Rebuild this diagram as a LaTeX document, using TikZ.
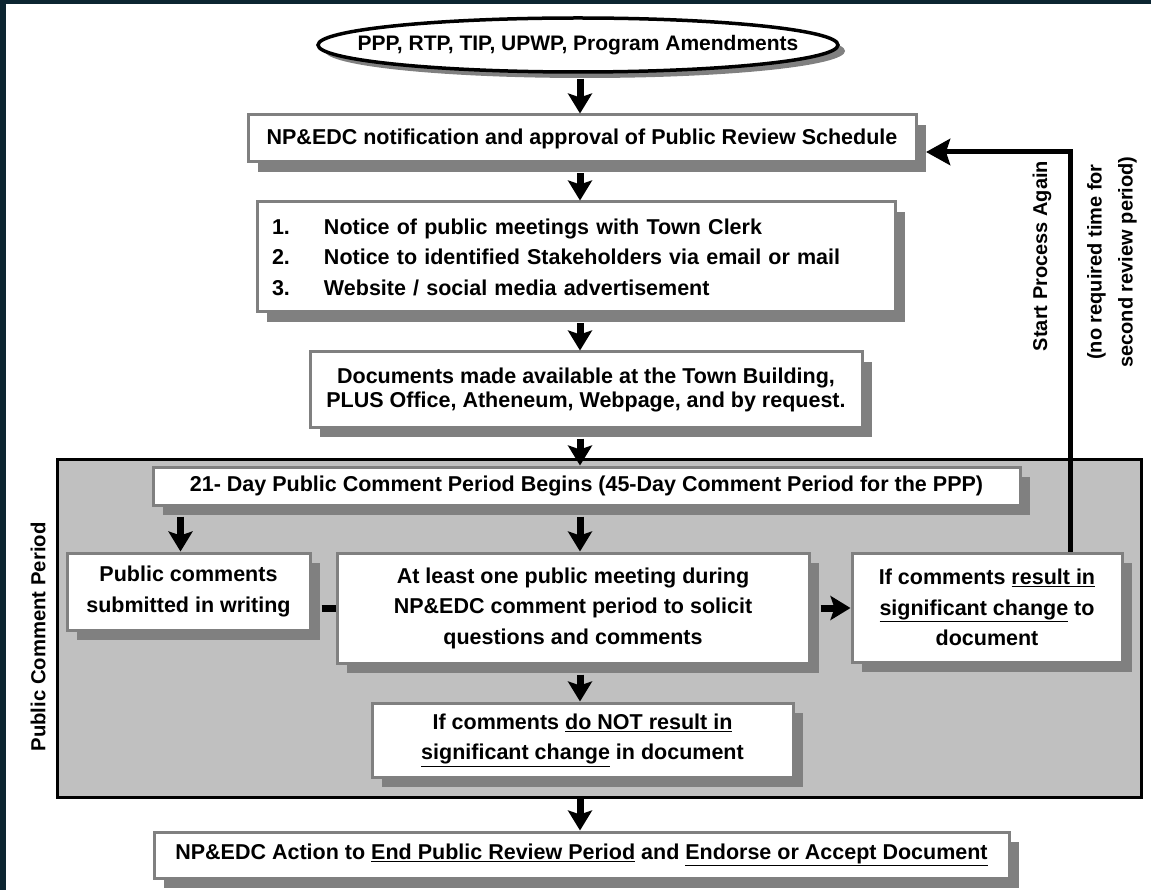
\documentclass[tikz,border=0pt]{standalone}
\usepackage{fontspec}
\setmainfont{Liberation Sans}
\usepackage{tikz}
\usetikzlibrary{positioning,arrows.meta,shapes.geometric,shadows}
\definecolor{framenavy}{HTML}{0C2531}
\definecolor{boxgray}{HTML}{808080}
\definecolor{zonegray}{HTML}{C0C0C0}

\begin{document}
\begin{tikzpicture}[x=1pt, y=-1pt,
    procbox/.style={rectangle, draw=boxgray, line width=3pt, fill=white, inner sep=0pt, align=center,
        font=\bfseries\fontsize{21.5}{30.5}\selectfont,
        drop shadow={shadow xshift=10pt, shadow yshift=-10pt, fill=boxgray, opacity=1}},
    startnode/.style={ellipse, draw=black, line width=3.5pt, fill=white, inner xsep=-40pt, inner ysep=0pt,
        font=\bfseries\fontsize{21}{24}\selectfont,
        drop shadow={shadow xshift=7pt, shadow yshift=-6pt, fill=boxgray, opacity=1}},
    zonebox/.style={rectangle, draw=black, line width=3pt, fill=zonegray, inner sep=0pt},
    flowarrow/.style={-{Stealth[length=20pt, width=24pt, inset=4pt]}, line width=7pt, shorten <=10pt},
    backarrow/.style={-{Stealth[length=24pt, width=26pt, inset=4pt]}, line width=5pt},
    sidelabel/.style={rotate=90, align=center, font=\bfseries\fontsize{20}{31}\selectfont}
    ]
        %Frame
        \useasboundingbox (0,0) rectangle (1151,890);
        \fill[white] (0,0) rectangle (1151,890);
        \fill[framenavy] (0,0) rectangle (1151,4);
        \fill[framenavy] (0,0) rectangle (6,890);
        \coordinate (axis) at (580,0);

        %Comment period zone
        \node[zonebox, minimum width=1084pt, minimum height=338pt]
            (zone)      at (599,628)    {};
        \node[sidelabel, font=\bfseries\fontsize{20.3}{24}\selectfont]
            (zonelabel) at (38,637)     {Public Comment Period};

        %Nodes
        \node[startnode, minimum width=520pt, minimum height=54pt]
            (source)    at (578,45)     {PPP, RTP, TIP, UPWP, Program Amendments};
        \node[procbox, minimum width=668pt, minimum height=47pt]
            (notify)    at (582,138.5)  {NP\&EDC notification and approval of Public Review Schedule};
        \node[procbox, minimum width=638pt, minimum height=110pt, text width=608pt, align=left]
            (notice)    at (576,257)    {\makebox[52pt][l]{1.}Notice of public meetings with Town Clerk\\
                                         \makebox[52pt][l]{2.}Notice to identified Stakeholders via email or mail\\
                                         \makebox[52pt][l]{3.}Website / social media advertisement};
        \node[procbox, minimum width=552pt, minimum height=75pt, font=\bfseries\fontsize{21.5}{24}\selectfont]
            (docs)      at (586,389.5)  {Documents made available at the Town Building,\\
                                         PLUS Office, Atheneum, Webpage, and by request.};
        \node[procbox, minimum width=867pt, minimum height=38pt]
            (begins)    at (586.5,486)  {21- Day Public Comment Period Begins (45-Day Comment Period for the PPP)};
        \node[procbox, minimum width=243pt, minimum height=77pt]
            (written)   at (188.5,591.5) {Public comments\\submitted in writing};
        \node[procbox, minimum width=472pt, minimum height=110pt]
            (meeting)   at (573,608)    {At least one public meeting during\\
                                         NP\&EDC comment period to solicit\\
                                         questions and comments};
        \node[procbox, minimum width=270pt, minimum height=109pt]
            (change)    at (987,607.5)  {If comments \underline{result in}\\
                                         \underline{significant change} to\\
                                         document};
        \node[procbox, minimum width=421pt, minimum height=74pt]
            (nochange)  at (582.5,740)  {If comments \underline{do NOT result in}\\
                                         \underline{significant change} in document};
        \node[procbox, minimum width=855pt, minimum height=46pt]
            (action)    at (581.5,855)  {NP\&EDC Action to \underline{End Public Review Period} and \underline{Endorse or Accept Document}};

        %Side notes
        \node[sidelabel]
            (again)     at (1042,256)   {Start Process Again};
        \node[sidelabel]
            (note)      at (1112,262)   {(no required time for\\second review period)};

        %Lines
        \draw[flowarrow, shorten <=5pt]
            (axis |- source.south) -- (axis |- notify.north);
        \draw[flowarrow]
            (axis |- notify.south) -- (axis |- notice.north);
        \draw[flowarrow]
            (axis |- notice.south) -- (axis |- docs.north);
        \draw[flowarrow]
            (axis |- docs.south) -- (axis |- begins.north);
        \draw[flowarrow]
            ([xshift=-8pt]written.north |- begins.south) -- ([xshift=-8pt]written.north);
        \draw[flowarrow]
            (axis |- begins.south) -- (axis |- meeting.north);
        \draw[line width=7pt, shorten <=10pt]
            (written.east |- meeting.west) -- (meeting.west);
        \draw[flowarrow]
            (meeting.east) -- (meeting.east -| change.west);
        \draw[flowarrow]
            (axis |- meeting.south) -- (axis |- nochange.north);
        \draw[flowarrow, shorten <=0pt]
            (axis |- zone.south) -- (axis |- action.north);

        %Loop back
        \coordinate (looptop) at (1070,152);
        \coordinate (loopend) at (926,152);
        \draw[backarrow]
            (looptop |- change.north) -- (looptop) -- (loopend);
    \end{tikzpicture}
\end{document}
